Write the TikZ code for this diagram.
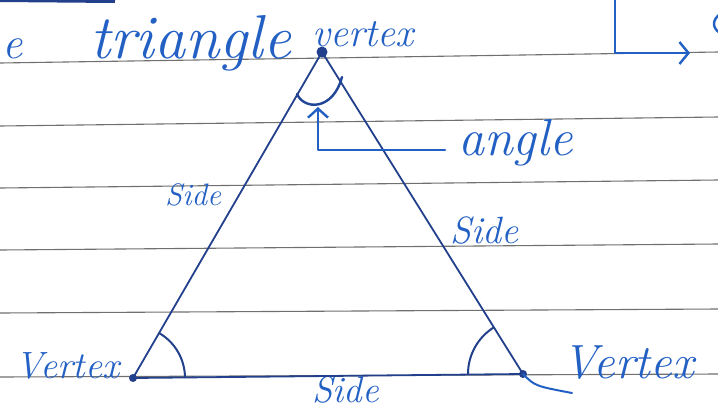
\documentclass[tikz,border=0pt]{standalone}
\usetikzlibrary{arrows.meta}
\definecolor{ink}{HTML}{2360C4}
\definecolor{navy}{HTML}{22408C}
\definecolor{rulegray}{HTML}{707070}
\begin{document}
\begin{tikzpicture}[x=1pt,y=-1pt,
  lbl/.style={inner sep=0pt, anchor=base west, text=ink},
  ruleline/.style={draw=rulegray, line width=1.1pt},
  sideline/.style={draw=navy, line width=1.8pt},
  inkline/.style={draw=ink, line width=2.4pt, line cap=round, line join=round},
  vdot/.style={circle, fill=navy, inner sep=0pt, minimum size=#1},
  vdot/.default=8pt]
\useasboundingbox (0,0) rectangle (718,416);
\fill[white] (0,0) rectangle (718,416);
\clip (0,0) rectangle (718,416);
% ruled lines
\draw[ruleline] (0,63) -- (718,52);
\draw[ruleline] (0,126) -- (718,117);
\draw[ruleline] (0,188) -- (718,180);
\draw[ruleline] (0,250) -- (718,244);
\draw[ruleline] (0,313) -- (718,309);
\draw[ruleline] (0,377) -- (718,374);
% remnant of previous line
\draw[navy, line width=4pt] (0,0) -- (115,1);
% labels
\node[lbl, font=\itshape\fontsize{45}{50}\selectfont] (e) at (2,58) {e};
\node[lbl, font=\itshape\fontsize{62}{70}\selectfont] (tri) at (90,58) {triangle};
\node[lbl, font=\itshape\fontsize{40}{46}\selectfont] (vtop) at (312,46) {vertex};
\node[lbl, font=\itshape\fontsize{52}{60}\selectfont] (ang) at (458,155) {angle};
\node[lbl, font=\itshape\fontsize{31}{36}\selectfont] (sleft) at (165,205) {Side};
\node[lbl, font=\itshape\fontsize{38}{44}\selectfont] (sright) at (450,243) {Side};
\node[lbl, font=\itshape\fontsize{38}{44}\selectfont] (vleft) at (15,378) {Vertex};
\node[lbl, font=\itshape\fontsize{48}{56}\selectfont] (vright) at (562,378) {Vertex};
\node[lbl, font=\itshape\fontsize{37}{42}\selectfont] (sbot) at (312,402) {Side};
% vertices
\node[vdot=11pt] (A) at (322,52) {};
\node[vdot=8pt] (B) at (133,378) {};
\node[vdot=8pt] (C) at (523,374) {};
\draw[sideline] (A.center) -- (B.center) -- (C.center) -- cycle;
\draw[ink, line width=2pt, line cap=round] (C.center) .. controls (535,386) .. (572,393);
% angle marks
\draw[sideline, line width=2pt] (185,378) arc[start angle=0, end angle=60, radius=52pt];
\draw[sideline, line width=2pt] (468,374) arc[start angle=180, end angle=122, radius=55pt];
\draw[navy!80!ink, line width=2.4pt, line cap=round] (297,94) .. controls (304,110) and (333,111) .. (342,77);
% angle pointer
\coordinate (tip) at (318,107);
\coordinate (aend) at (445,150);
\draw[inkline, {Straight Barb[length=9pt,width=20pt]}-] (tip) |- (aend);
% top right L arrow
\coordinate (Ltop) at (615,-2);
\coordinate (Lend) at (690,53);
\draw[inkline, -{Straight Barb[length=9pt,width=22pt]}] (Ltop) |- (Lend);
\draw[inkline] (720,14) .. controls (712,20) and (712,28) .. (720,33);
\end{tikzpicture}
\end{document}
